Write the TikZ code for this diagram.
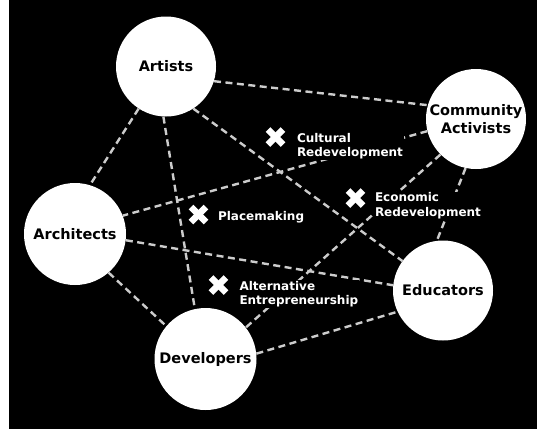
\documentclass[tikz,border=0pt]{standalone}
\usepackage{fontspec}
\setmainfont{DejaVu Sans}
\pgfdeclarelayer{back}
\pgfdeclarelayer{mid}
\pgfsetlayers{back,mid,main}
\begin{document}
\begin{tikzpicture}[x=1pt,y=-1pt,
  actor/.style={circle, fill=white, inner sep=0pt, text=black, align=center,
    font=\fontsize{14.5}{18}\selectfont\bfseries},
  link/.style={draw=black!20, line width=2.4pt, dash pattern=on 7pt off 4.5pt},
  outcome/.style={fill=black, text=white, inner sep=0.8pt, anchor=west, align=left,
    font=\fontsize{12}{14.5}\selectfont\bfseries},
  xmark/.style={draw=white, line width=6.5pt}
]
\useasboundingbox (0,0) rectangle (537,432);
\begin{pgfonlayer}{back}
\fill[white] (0,0) rectangle (537,432);
\fill[black] (9,0) rectangle (537,429);
\end{pgfonlayer}

\node[actor, minimum size=100pt] (art) at (166,66.5) {Artists};
\node[actor, minimum size=100pt] (ca)  at (476,119) {Community\\Activists};
\node[actor, minimum size=102pt] (arc) at (75,234) {Architects};
\node[actor, minimum size=100pt] (edu) at (443,290.5) {Educators};
\node[actor, minimum size=102pt] (dev) at (205.5,359) {Developers};

\begin{pgfonlayer}{mid}
\draw[link] (art.-17) -- (ca.164);
\draw[link] (art.-123) -- (arc.73);
\draw[link] (art.-93) -- (dev.102);
\draw[link] (art.-57) -- (edu.144);
\draw[link] (ca.194) -- (arc.21);
\draw[link] (ca.225) -- (dev.38);
\draw[link] (ca.258) -- (edu.97);
\draw[link] (arc.-7) -- (edu.174);
\draw[link] (arc.-49) -- (dev.140);
\draw[link] (dev.6) -- (edu.205);
\end{pgfonlayer}

\node[outcome] (cul) at (296,146) {Cultural\\Redevelopment};
\node[outcome] (eco) at (374,205.5) {Economic\\Redevelopment};
\node[outcome] (pla) at (217,217) {Placemaking};
\node[outcome] (alt) at (238.5,294) {Alternative\\Entrepreneurship};

\foreach \cx/\cy in {275.5/137, 355.5/198, 198.5/214.5, 218.5/285}{
  \draw[xmark] (\cx-7.5,\cy-7.5) -- (\cx+7.5,\cy+7.5);
  \draw[xmark] (\cx-7.5,\cy+7.5) -- (\cx+7.5,\cy-7.5);
}
\end{tikzpicture}
\end{document}
